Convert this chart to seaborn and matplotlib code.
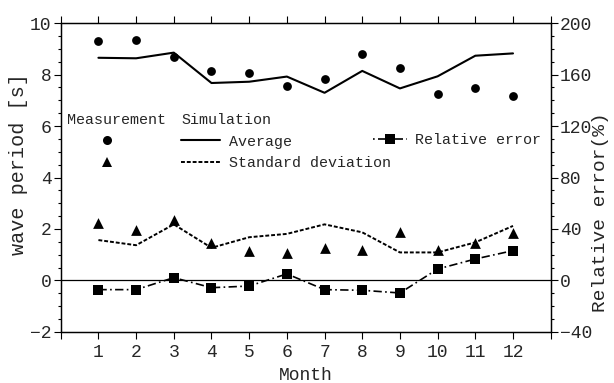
import matplotlib
matplotlib.use("Agg")
import matplotlib.pyplot as plt
from matplotlib.lines import Line2D
from matplotlib.ticker import MultipleLocator, FixedLocator
import seaborn as sns
import pandas as pd

# ---- data ----
months = [1, 2, 3, 4, 5, 6, 7, 8, 9, 10, 11, 12]
month_labels = ["1", "2", "3", "4", "5", "6", "7", "8", "9", "10", "11", "12"]
meas_avg = [9.30, 9.33, 8.67, 8.14, 8.05, 7.54, 7.84, 8.81, 8.24, 7.25, 7.46, 7.18]
meas_std = [2.22, 1.96, 2.35, 1.44, 1.15, 1.06, 1.27, 1.17, 1.87, 1.18, 1.44, 1.83]
sim_avg = [8.65, 8.63, 8.85, 7.67, 7.72, 7.92, 7.29, 8.14, 7.46, 7.93, 8.73, 8.82]
sim_std = [1.57, 1.37, 2.18, 1.27, 1.68, 1.81, 2.18, 1.87, 1.09, 1.09, 1.48, 2.12]
rel_err = [-7.1, -7.1, 2.2, -5.6, -4.3, 5.1, -7.1, -7.6, -9.7, 8.9, 16.7, 23.2]

df = pd.DataFrame({
    "Month": months,
    "meas_avg": meas_avg,
    "meas_std": meas_std,
    "sim_avg": sim_avg,
    "sim_std": sim_std,
    "rel_err": rel_err,
})

sns.set_style("ticks")
plt.rcParams["font.family"] = ["Liberation Mono", "DejaVu Sans"]
plt.rcParams["axes.linewidth"] = 0.9

fig = plt.figure(figsize=(6.14, 3.83), dpi=100)
ax = fig.add_axes([0.0989, 0.1332, 0.798, 0.8067])
ax2 = ax.twinx()

K = "black"
STD_DASH = (2, 1)
REL_DASH = (5, 2, 1, 2)

# simulation lines
sns.lineplot(data=df, x="Month", y="sim_avg", ax=ax, color=K, linewidth=1.5, legend=False)
sns.lineplot(data=df, x="Month", y="sim_std", ax=ax, color=K, linewidth=1.4,
             dashes=False, legend=False)
ax.lines[-1].set_dashes(STD_DASH)
# measurements
sns.scatterplot(data=df, x="Month", y="meas_avg", ax=ax, color=K, marker="o",
                s=40, linewidth=0, legend=False)
sns.scatterplot(data=df, x="Month", y="meas_std", ax=ax, color=K, marker="^",
                s=60, linewidth=0, legend=False)
ax.axhline(0, color=K, linewidth=0.9)

# relative error on right axis
sns.lineplot(data=df, x="Month", y="rel_err", ax=ax2, color=K, linewidth=1.2,
             marker="s", markersize=7, markeredgewidth=0, legend=False)
ax2.lines[-1].set_dashes(REL_DASH)

# axes limits & ticks
ax.set_xlim(0, 13)
ax.set_ylim(-2, 10)
ax2.set_ylim(-40, 200)
ax.xaxis.set_major_locator(FixedLocator(list(range(0, 14))))
ax.set_xticklabels([""] + month_labels + [""])
ax.yaxis.set_major_locator(MultipleLocator(2))
ax.yaxis.set_minor_locator(MultipleLocator(0.5))
ax2.yaxis.set_major_locator(MultipleLocator(40))
ax2.yaxis.set_minor_locator(MultipleLocator(10))

for a in (ax, ax2):
    a.tick_params(axis="both", which="major", direction="out", length=5, width=0.8,
                  labelsize=13, pad=1.5, color=K)
    a.tick_params(axis="y", which="minor", direction="out", length=2.5, width=0.8, color=K)
    for s in a.spines.values():
        s.set_visible(True)
        s.set_color(K)
ax.tick_params(axis="x", top=True, labeltop=False, pad=4)
ax.tick_params(axis="y", right=False)
ax2.tick_params(axis="y", which="both", left=False)

ax.set_xlabel("Month", fontsize=13, labelpad=4)
ax.set_ylabel("wave period [s]", fontsize=14.5)
ax.yaxis.set_label_coords(-0.0667, 0.542)
ax2.set_ylabel("Relative error(%)", fontsize=14)
ax2.yaxis.set_label_coords(1.0837, 0.388)

# ---- legends ----
LFS = 10.8
h_circ = Line2D([], [], ls="none", marker="o", color=K, ms=6.5, mew=0)
h_tri = Line2D([], [], ls="none", marker="^", color=K, ms=7.5, mew=0)
h_avg = Line2D([], [], color=K, lw=1.5)
h_std = Line2D([], [], color=K, lw=1.4, dashes=STD_DASH)
h_rel = Line2D([], [], color=K, lw=1.2, linestyle=(7, REL_DASH), marker="s", ms=7, mew=0)

common = dict(frameon=False, fontsize=LFS, title_fontsize=LFS, borderpad=0,
              borderaxespad=0, labelspacing=0.5, loc="upper left")
legA = ax.legend([h_circ, h_tri], ["", ""], title="Measurement",
                 bbox_to_anchor=(0.0129, 0.708), handlelength=5.3, handletextpad=0,
                 alignment="left", **common)
ax.add_artist(legA)
legB = ax.legend([h_avg, h_std], ["Average", "Standard deviation"], title="Simulation",
                 bbox_to_anchor=(0.2455, 0.708), handlelength=2.6, handletextpad=0.6,
                 alignment="left", **common)
legC = ax2.legend([h_rel], ["Relative error"], bbox_to_anchor=(0.637, 0.644),
                  handlelength=2.27, handletextpad=0.55, numpoints=1, **common)

fig.savefig("out.png", dpi=100)
